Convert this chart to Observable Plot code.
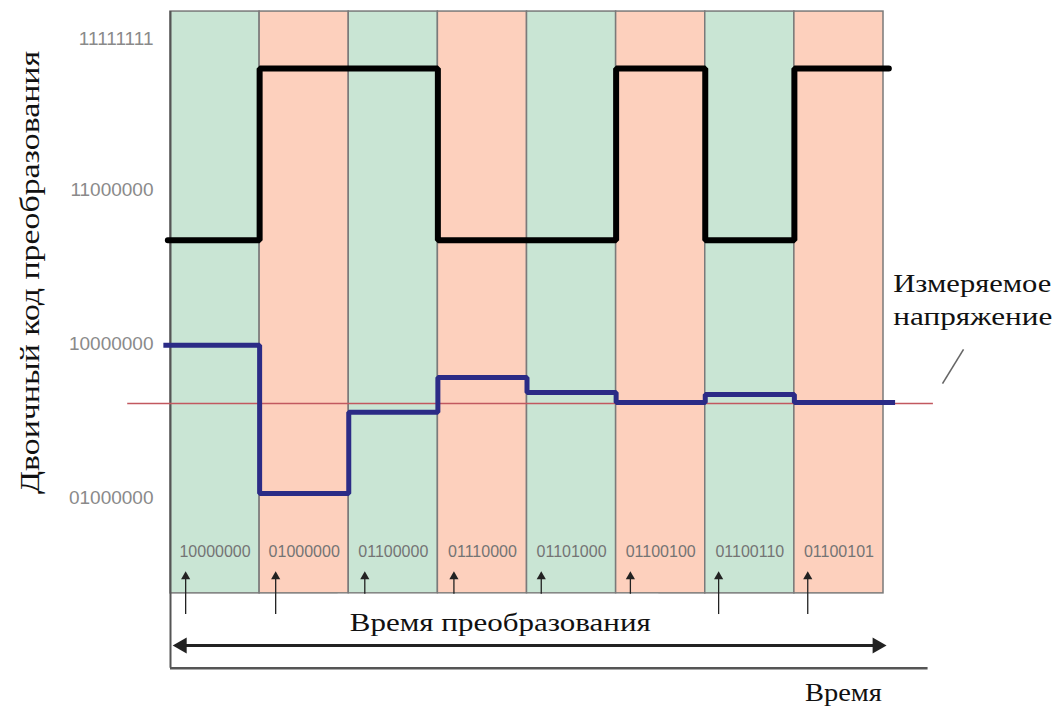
<!DOCTYPE html>
<html>
<head>
<meta charset="utf-8">
<script src="https://cdn.jsdelivr.net/npm/d3@7"></script>
<script src="https://cdn.jsdelivr.net/npm/@observablehq/plot@0.6"></script>
<style>
  html, body { margin: 0; padding: 0; background: #fff; }
  svg { display: block; }
</style>
</head>
<body>
<div id="chart"></div>
<script>
// ---- data (y in decimal value of the 8-bit code) ----
const panelCodes = ["10000000", "01000000", "01100000", "01110000", "01101000", "01100100", "01100110", "01100101"];
const dacLevels = [127.3, 65.7, 99.5, 113.9, 107.7, 103.5, 106.9, 103.5];          // blue step line
const comparatorLevels = [171, 242.5, 242.5, 171, 171, 242.5, 171, 242.5];          // black step line
const measuredVoltage = 103.1;                                                      // red line
const yTickValues = [64, 128, 192, 255];
const yTickLabels = ["01000000", "10000000", "11000000", "11111111"];
const arrowTimes = [0.17, 1.18, 2.18, 3.18, 4.16, 5.16, 6.15, 7.15];
const yTitle = "Двоичный код преобразования";
const measuredLabel = ["Измеряемое", "напряжение"];
const convTimeLabel = "Время преобразования";
const timeLabel = "Время";

const green = "#c9e5d4", salmon = "#fdd0bd";
const serif = "Liberation Serif, Times New Roman, serif";
const sans = "Liberation Sans, Arial, sans-serif";

function stepPoints(levels, x0, xEnd) {
  const pts = levels.map((v, i) => ({x: i === 0 ? x0 : i, y: v}));
  pts.push({x: xEnd, y: levels[levels.length - 1]});
  return pts;
}

const chart = Plot.plot({
  width: 1058,
  height: 708,
  marginLeft: 170,
  marginRight: 175,
  marginTop: 0,
  marginBottom: 0,
  x: {domain: [0, 8], axis: null},
  y: {domain: [-23.8, 270.8], axis: null},
  color: {type: "identity"},
  style: {background: "white", overflow: "visible"},
  marks: [
    // panels
    Plot.rect(panelCodes, {
      x1: (d, i) => i, x2: (d, i) => i + 1, y1: 24.1, y2: 266.2,
      fill: (d, i) => (i % 2 ? salmon : green),
      stroke: "#7a7a7a", strokeWidth: 1.5
    }),
    // axis lines (left & bottom)
    Plot.ruleX([0], {y1: -7.1, y2: 266.2, stroke: "#555", strokeWidth: 2}),
    Plot.ruleY([-7.1], {x1: 0, x2: 8.5, stroke: "#555", strokeWidth: 2.5}),
    // upward arrows
    Plot.ruleX(arrowTimes, {y1: 15.3, y2: 30.3, stroke: "#222", strokeWidth: 1.3}),
    Plot.dot(arrowTimes, {x: d => d, y: 31.1, symbol: "triangle", r: 3.4, fill: "#222", stroke: "none"}),
    // white box behind conversion-time label
    Plot.rect([convTimeLabel], {x1: 1.88, x2: 5.48, y1: 14.6, y2: 23.7, fill: "white", stroke: "none"}),
    // code labels in each panel
    Plot.text(panelCodes, {x: (d, i) => i + 0.5, y: 41.5, text: d => d, fontSize: 16, fontFamily: sans, fill: "#747474"}),
    // red measured voltage
    Plot.ruleY([measuredVoltage], {x1: -0.48, x2: 8.56, stroke: "#c2585f", strokeWidth: 1.6}),
    // black comparator line
    Plot.line(stepPoints(comparatorLevels, -0.03, 8.06), {x: "x", y: "y", curve: "step-after", stroke: "#000", strokeWidth: 6, strokeLinecap: "round", strokeLinejoin: "miter"}),
    // blue DAC line
    Plot.line(stepPoints(dacLevels, -0.08, 8.13), {x: "x", y: "y", curve: "step-after", stroke: "#2b2b86", strokeWidth: 5, strokeLinecap: "butt", strokeLinejoin: "miter"}),
    // y tick labels
    Plot.text(yTickLabels, {x: 0, y: yTickValues, text: d => d, dx: -17, textAnchor: "end", fontSize: 19, fontFamily: sans, fill: "#8a8a8a"}),
    // y title
    Plot.text([yTitle], {x: -1.571, y: 157.6, text: d => d, rotate: -90, fontSize: 27, fontFamily: serif, fill: "#111"}),
    // measured voltage label + pointer
    Plot.text([measuredLabel.join("\n")], {x: 8.11, y: 147.0, text: d => d, textAnchor: "start", lineHeight: 1.27, fontSize: 26, fontFamily: serif, fill: "#111"}),
    Plot.link([measuredVoltage], {x1: 8.662, y1: 111.4, x2: 8.898, y2: 125.6, stroke: "#666", strokeWidth: 1.6}),
    // conversion time double arrow
    Plot.ruleY([2.4], {x1: 0.06, x2: 7.98, stroke: "#222", strokeWidth: 3}),
    Plot.dot([0.129], {x: d => d, y: 2.4, symbol: "triangle", r: 6, rotate: -90, fill: "#222", stroke: "none"}),
    Plot.dot([7.93], {x: d => d, y: 2.4, symbol: "triangle", r: 6, rotate: 90, fill: "#222", stroke: "none"}),
    Plot.text([convTimeLabel], {x: 3.70, y: 12.0, text: d => d, fontSize: 26, fontFamily: serif, fill: "#111"}),
    // time label
    Plot.text([timeLabel], {x: 7.55, y: -17.1, text: d => d, fontSize: 26, fontFamily: serif, fill: "#111"})
  ]
});

// stretch serif labels to the widths seen in the reference
const targetLengths = {
  [yTitle]: 443,
  [measuredLabel[0]]: 158,
  [measuredLabel[1]]: 159,
  [convTimeLabel]: 301,
  [timeLabel]: 77
};
d3.select(chart).selectAll("text, tspan").each(function () {
  if (this.querySelector && this.querySelector("tspan")) return;
  const t = this.textContent;
  if (targetLengths[t]) {
    this.setAttribute("textLength", targetLengths[t]);
    this.setAttribute("lengthAdjust", "spacingAndGlyphs");
  }
});

document.getElementById("chart").appendChild(chart);
</script>
</body>
</html>
